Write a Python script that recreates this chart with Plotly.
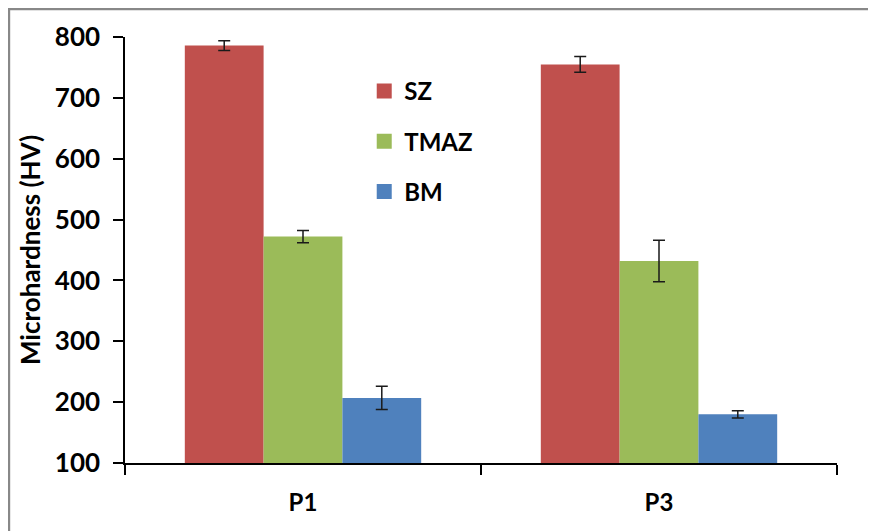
import plotly.graph_objects as go

categories = ["P1", "P3"]
series_names = ["SZ", "TMAZ", "BM"]
sz_values = [786, 755]
sz_errors = [8, 13]
tmaz_values = [472, 432]
tmaz_errors = [10, 34]
bm_values = [207, 180]
bm_errors = [19, 6]
y_ticks = [100, 200, 300, 400, 500, 600, 700, 800]

colors = ["#C0504D", "#9BBB59", "#4F81BD"]
values = [sz_values, tmaz_values, bm_values]
errors = [sz_errors, tmaz_errors, bm_errors]

FONT = "Lato"
fig = go.Figure()
for name, vals, errs, col in zip(series_names, values, errors, colors):
    fig.add_trace(go.Bar(
        x=categories, y=vals, name=name, showlegend=False,
        marker=dict(color=col, line=dict(width=0)),
        error_y=dict(type="data", array=errs, visible=True,
                     color="#1a1a1a", thickness=1.5, width=6),
    ))
for i, (name, col) in enumerate(zip(series_names, colors)):
    fig.add_trace(go.Scatter(
        x=[None], y=[None], mode="markers", name=name, legendgroup=name,
        marker=dict(symbol="square", size=15, color=col),
    ))

fig.update_layout(
    width=868, height=523,
    margin=dict(l=117, r=39, t=29, b=68),
    paper_bgcolor="white", plot_bgcolor="white",
    barmode="group", bargap=0.336, bargroupgap=0,
    font=dict(family=FONT, color="black"),
    legend=dict(x=0.336, y=0.925, xanchor="left", yanchor="top",
                font=dict(family=FONT, size=24, color="black", weight="bold"),
                tracegroupgap=16, bgcolor="rgba(0,0,0,0)", itemwidth=30),
    xaxis=dict(
        showline=True, linecolor="black", linewidth=1.5,
        ticks="outside", ticklen=10, tickcolor="black", tickwidth=1.5,
        tickson="boundaries", automargin=False,
        tickfont=dict(family=FONT, size=24, color="black", weight="bold"),
        ticklabelstandoff=17,
        showgrid=False, zeroline=False,
    ),
    yaxis=dict(
        range=[100, 800], tickvals=y_ticks, automargin=False,
        showline=True, linecolor="black", linewidth=1.5,
        ticks="outside", ticklen=10, tickcolor="black", tickwidth=1.5,
        tickfont=dict(family=FONT, size=26, color="black", weight="bold"),
        ticklabelstandoff=8,
        showgrid=False, zeroline=False,
        title=dict(text="Microhardness (HV)",
                   font=dict(family=FONT, size=26, color="black", weight="bold"),
                   standoff=7),
    ),
    shapes=[dict(type="rect", xref="paper", yref="paper",
                 x0=-0.163, x1=1.4, y0=-0.5, y1=1.066,
                 line=dict(color="#888888", width=2.5), fillcolor="rgba(0,0,0,0)",
                 layer="below")],
)

fig.write_html(
    "out.html",
    post_script="document.documentElement.style.overflow='hidden';"
                "document.body.style.overflow='hidden';",
)
